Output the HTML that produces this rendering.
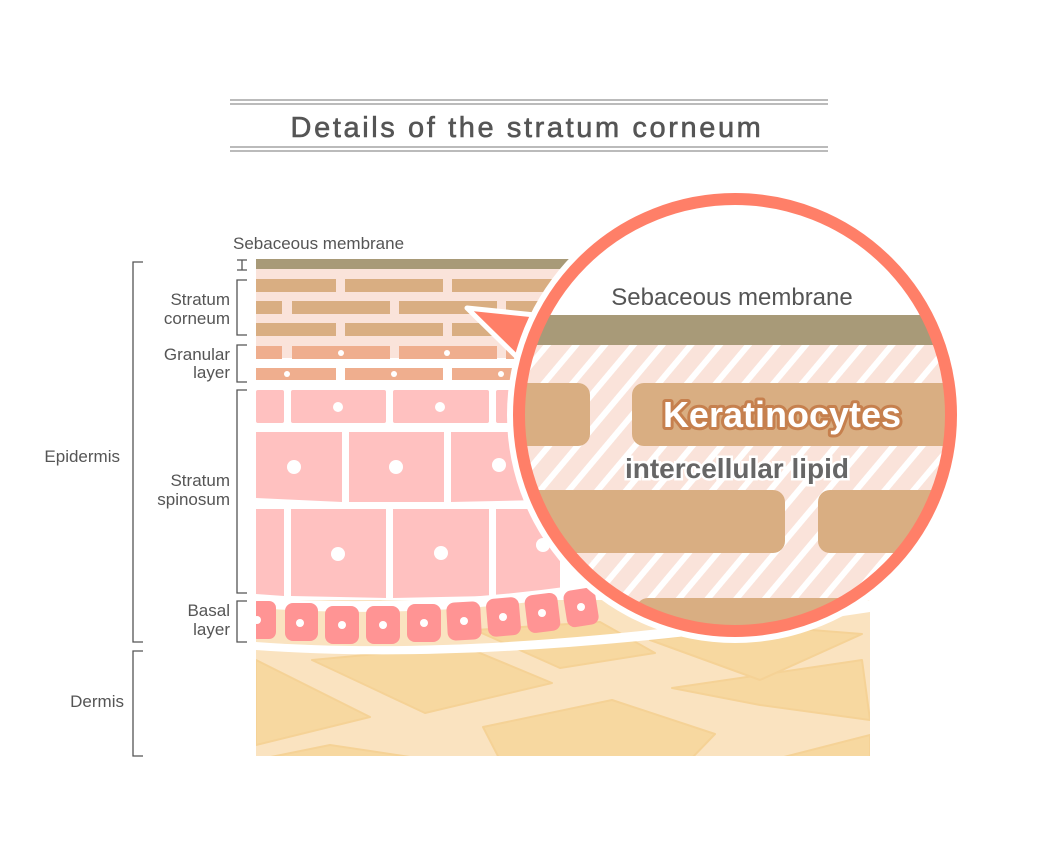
<!DOCTYPE html>
<html><head><meta charset="utf-8"><style>
body{margin:0;background:#fff;}
svg{display:block;font-family:"Liberation Sans",sans-serif;}
</style></head><body>
<svg width="1040" height="868" viewBox="0 0 1040 868" xmlns="http://www.w3.org/2000/svg">
<defs>
<pattern id="hatch" width="22" height="22" patternUnits="userSpaceOnUse" patternTransform="rotate(40)">
<rect width="22" height="22" fill="#FAE3DA"/><rect width="6" height="22" fill="#fff"/>
</pattern>
<clipPath id="cc"><circle cx="735" cy="415" r="216"/></clipPath>
<clipPath id="skin"><rect x="256" y="250" width="614" height="506"/></clipPath>
</defs>
<g stroke="#777" stroke-width="1">
<line x1="230" y1="100" x2="828" y2="100"/><line x1="230" y1="104" x2="828" y2="104"/>
<line x1="230" y1="147" x2="828" y2="147"/><line x1="230" y1="151" x2="828" y2="151"/>
</g>
<text x="527" y="137" text-anchor="middle" font-size="29" fill="#555" stroke="#555" stroke-width="0.6" letter-spacing="2.6">Details of the stratum corneum</text>

<g clip-path="url(#skin)">
<rect x="256" y="600" width="614" height="156" fill="#FAE3C0"/>
<g fill="#F7D8A0" stroke="#F5D296" stroke-width="2" stroke-linejoin="round">
<polygon points="312,660 463,646 552,683 425,713"/>
<polygon points="256,660 370,717 256,745"/>
<polygon points="483,727 612,700 715,734 690,760 500,760"/>
<polygon points="475,630 600,622 655,653 560,668"/>
<polygon points="672,688 862,660 870,720 760,705"/>
<polygon points="650,640 760,626 862,634 760,680"/>
<polygon points="256,760 330,745 430,760"/>
<polygon points="780,758 870,735 870,760"/>
</g>
<rect x="256" y="269" width="614" height="116" fill="#FAE3DA"/>
<rect x="256" y="259" width="614" height="10" fill="#A89A78"/>
<g fill="#D9AE82">
<rect x="256" y="279" width="80" height="13"/><rect x="345" y="279" width="98" height="13"/><rect x="452" y="279" width="100" height="13"/>
<rect x="256" y="301" width="26" height="13"/><rect x="292" y="301" width="98" height="13"/><rect x="399" y="301" width="98" height="13"/><rect x="506" y="301" width="60" height="13"/>
<rect x="256" y="323" width="80" height="13"/><rect x="345" y="323" width="98" height="13"/><rect x="452" y="323" width="100" height="13"/>
</g>
<rect x="256" y="358" width="614" height="32" fill="#fff"/>
<g fill="#EFAE8E">
<rect x="256" y="346" width="26" height="13"/><rect x="292" y="346" width="98" height="13"/><rect x="399" y="346" width="98" height="13"/><rect x="506" y="346" width="60" height="13"/>
<rect x="256" y="368" width="80" height="12"/><rect x="345" y="368" width="98" height="12"/><rect x="452" y="368" width="100" height="12"/>
</g>
<g fill="#fff"><circle cx="341" cy="353" r="3"/><circle cx="447" cy="353" r="3"/><circle cx="287" cy="374" r="3"/><circle cx="394" cy="374" r="3"/><circle cx="501" cy="374" r="3"/></g>
<g fill="#FFC1C0">
<rect x="256" y="390" width="28" height="33" rx="2"/><rect x="291" y="390" width="95" height="33" rx="2"/><rect x="393" y="390" width="96" height="33" rx="2"/><rect x="496" y="390" width="60" height="33" rx="2"/>
<path d="M256 432 H342 V502 L256 498Z"/><path d="M349 432 H444 V502 H349Z"/><path d="M451 432 H540 V500 L451 502Z"/>
<path d="M256 509 H284 V596 L256 594Z"/><path d="M291 509 H386 V598 L291 596Z"/><path d="M393 509 H489 V596 L393 598Z"/><path d="M496 509 H560 V590 L496 596Z"/>
</g>
<g fill="#fff"><circle cx="338" cy="407" r="5"/><circle cx="440" cy="407" r="5"/><circle cx="294" cy="467" r="7"/><circle cx="396" cy="467" r="7"/><circle cx="499" cy="465" r="7"/><circle cx="338" cy="554" r="7"/><circle cx="441" cy="553" r="7"/><circle cx="543" cy="545" r="7"/></g>
<path d="M256 598 Q450 610 640 575 L640 585 Q450 622 256 608Z" fill="#fff"/>
<g fill="#FF9494">
<rect x="250" y="601" width="26" height="38" rx="7"/>
<rect x="285" y="603" width="33" height="38" rx="8"/>
<rect x="325" y="606" width="34" height="38" rx="8"/>
<rect x="366" y="606" width="34" height="38" rx="8"/>
<rect x="407" y="604" width="34" height="38" rx="8"/>
<rect x="447" y="602" width="34" height="38" rx="8" transform="rotate(-3 464 621)"/>
<rect x="487" y="598" width="33" height="38" rx="8" transform="rotate(-5 503 617)"/>
<rect x="526" y="594" width="33" height="38" rx="8" transform="rotate(-7 542 613)"/>
<rect x="565" y="589" width="32" height="37" rx="8" transform="rotate(-9 581 607)"/>
</g>
<g fill="#fff"><circle cx="257" cy="620" r="4"/><circle cx="300" cy="623" r="4"/><circle cx="342" cy="625" r="4"/><circle cx="383" cy="625" r="4"/><circle cx="424" cy="623" r="4"/><circle cx="464" cy="621" r="4"/><circle cx="503" cy="617" r="4"/><circle cx="542" cy="613" r="4"/><circle cx="581" cy="607" r="4"/></g>
<path d="M256 642 Q500 660 870 600 L870 612 Q500 668 256 650Z" fill="#fff"/>
</g>

<polygon points="467,308 545,316 525,365" fill="#FF7F68" stroke="#fff" stroke-width="5" stroke-linejoin="round"/>
<circle cx="735" cy="415" r="228" fill="#fff"/>
<g clip-path="url(#cc)">
<rect x="500" y="180" width="480" height="480" fill="#fff"/>
<rect x="500" y="345" width="480" height="320" fill="url(#hatch)"/>
<rect x="500" y="315" width="480" height="30" fill="#A89A78"/>
<text x="732" y="305" text-anchor="middle" font-size="24" fill="#555">Sebaceous membrane</text>
<g fill="#D9AE82">
<rect x="470" y="383" width="120" height="63" rx="12"/>
<rect x="632" y="383" width="340" height="63" rx="12"/>
<rect x="470" y="490" width="315" height="63" rx="12"/>
<rect x="818" y="490" width="160" height="63" rx="12"/>
<rect x="636" y="598" width="300" height="63" rx="12"/>
</g>
<text x="782" y="427" text-anchor="middle" font-size="36" font-weight="bold" fill="#fff" stroke="#C6804E" stroke-width="6" paint-order="stroke" stroke-linejoin="round">Keratinocytes</text>
<text x="737" y="478" text-anchor="middle" font-size="28" font-weight="bold" fill="#666" stroke="#fff" stroke-width="5" paint-order="stroke">intercellular lipid</text>
</g>
<circle cx="735" cy="415" r="216" fill="none" stroke="#FF7F68" stroke-width="12"/>

<g font-size="17" fill="#555">
<text x="233" y="249">Sebaceous membrane</text>
<text x="230" y="305" text-anchor="end">Stratum</text><text x="230" y="324" text-anchor="end">corneum</text>
<text x="230" y="360" text-anchor="end">Granular</text><text x="230" y="378" text-anchor="end">layer</text>
<text x="230" y="486" text-anchor="end">Stratum</text><text x="230" y="505" text-anchor="end">spinosum</text>
<text x="230" y="616" text-anchor="end">Basal</text><text x="230" y="635" text-anchor="end">layer</text>
<text x="120" y="462" text-anchor="end">Epidermis</text>
<text x="124" y="707" text-anchor="end">Dermis</text>
</g>
<g fill="none" stroke="#555" stroke-width="1.3">
<path d="M237 260 H247 M242 260 V270 M237 270 H247"/>
<path d="M247 280 H237 V335 H247"/>
<path d="M247 345 H237 V382 H247"/>
<path d="M247 390 H237 V593 H247"/>
<path d="M247 601 H237 V642 H247"/>
<path d="M143 262 H133 V642 H143"/>
<path d="M143 651 H133 V756 H143"/>
</g>
</svg>
</body></html>
